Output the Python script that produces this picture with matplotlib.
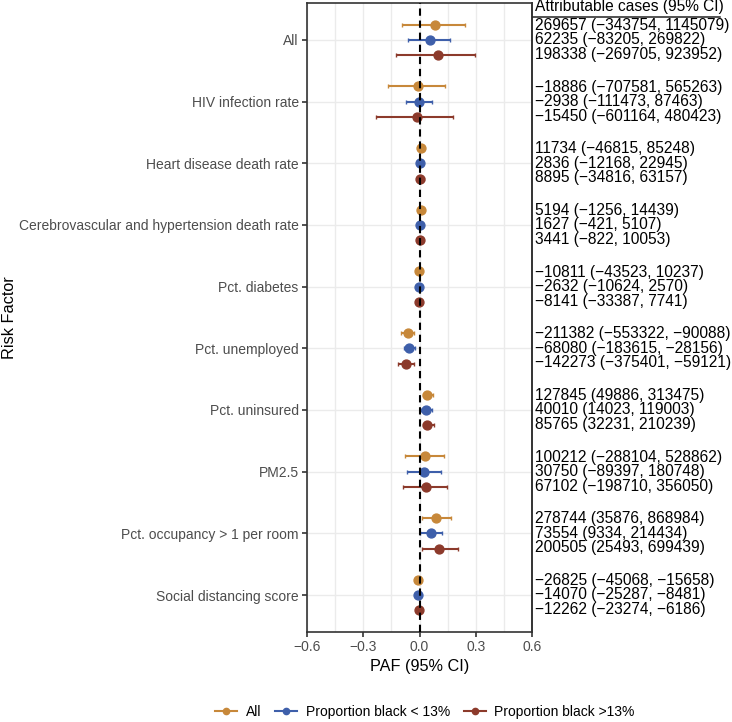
import numpy as np
import matplotlib.pyplot as plt
from matplotlib.lines import Line2D

plt.rcParams['font.family'] = ['Liberation Sans', 'DejaVu Sans']

factors = ["All", "HIV infection rate", "Heart disease death rate",
           "Cerebrovascular and hypertension death rate", "Pct. diabetes",
           "Pct. unemployed", "Pct. uninsured", "PM2.5",
           "Pct. occupancy > 1 per room", "Social distancing score"]
groups = ["All", "Proportion black < 13%", "Proportion black >13%"]
colors = ["#C7883A", "#3E5FAA", "#8C3A2B"]

# PAF estimates and 95% CI, one list per group
paf_all = [0.081, -0.009, 0.006, 0.006, -0.004, -0.063, 0.040, 0.030, 0.087, -0.006]
lo_all = [-0.093, -0.168, -0.004, 0.001, -0.012, -0.100, 0.016, -0.077, 0.012, -0.010]
hi_all = [0.240, 0.138, 0.016, 0.012, 0.004, -0.028, 0.072, 0.131, 0.170, -0.003]

paf_lo13 = [0.055, -0.002, 0.002, 0.003, -0.002, -0.055, 0.034, 0.024, 0.062, -0.009]
lo_lo13 = [-0.059, -0.070, -0.004, -0.001, -0.006, -0.082, 0.008, -0.066, 0.005, -0.013]
hi_lo13 = [0.163, 0.064, 0.009, 0.007, 0.002, -0.024, 0.065, 0.115, 0.122, -0.005]

paf_hi13 = [0.097, -0.013, 0.004, 0.004, -0.003, -0.070, 0.042, 0.033, 0.103, -0.004]
lo_hi13 = [-0.125, -0.230, -0.012, -0.001, -0.010, -0.115, 0.016, -0.086, 0.012, -0.008]
hi_hi13 = [0.295, 0.181, 0.022, 0.010, 0.004, -0.028, 0.076, 0.144, 0.204, -0.002]

# attributable cases (estimate, lower, upper)
ac_all = [(269657, -343754, 1145079), (-18886, -707581, 565263), (11734, -46815, 85248),
          (5194, -1256, 14439), (-10811, -43523, 10237), (-211382, -553322, -90088),
          (127845, 49886, 313475), (100212, -288104, 528862), (278744, 35876, 868984),
          (-26825, -45068, -15658)]
ac_lo13 = [(62235, -83205, 269822), (-2938, -111473, 87463), (2836, -12168, 22945),
           (1627, -421, 5107), (-2632, -10624, 2570), (-68080, -183615, -28156),
           (40010, 14023, 119003), (30750, -89397, 180748), (73554, 9334, 214434),
           (-14070, -25287, -8481)]
ac_hi13 = [(198338, -269705, 923952), (-15450, -601164, 480423), (8895, -34816, 63157),
           (3441, -822, 10053), (-8141, -33387, 7741), (-142273, -375401, -59121),
           (85765, 32231, 210239), (67102, -198710, 356050), (200505, 25493, 699439),
           (-12262, -23274, -6186)]

series = [(paf_all, lo_all, hi_all, ac_all),
          (paf_lo13, lo_lo13, hi_lo13, ac_lo13),
          (paf_hi13, lo_hi13, hi_hi13, ac_hi13)]
offsets = [-0.25, 0.0, 0.25]
text_offsets = [-0.235, 0.0, 0.235]


def fmt(v):
    return str(v).replace("-", "\u2212")


fig = plt.figure(figsize=(7.32, 7.22), dpi=100)
W, H = 732, 722
ax = fig.add_axes([307 / W, (H - 632) / H, 225 / W, 629 / H])
tx = fig.add_axes([532 / W, (H - 632) / H, 200 / W, 629 / H], sharey=ax)

pos = np.arange(1, len(factors) + 1)
for (est, lo, hi, ac), off, col in zip(series, offsets, colors):
    est = np.array(est)
    err = [est - np.array(lo), np.array(hi) - est]
    ax.errorbar(est, pos + off, xerr=err, fmt='o', color=col, ms=6.4,
                elinewidth=1.5, capsize=1.5, capthick=1.0, zorder=3)

ax.axvline(0, color='black', lw=1.5, dashes=(3.5, 2.3), zorder=5)

ax.set_xlim(-0.6, 0.6)
ax.set_ylim(len(factors) + 0.6, 0.4)
ax.set_xticks([-0.6, -0.3, 0.0, 0.3, 0.6])
ax.set_xticks(np.arange(-0.45, 0.5, 0.3), minor=True)
ax.set_xticklabels(["\u22120.6", "\u22120.3", "0.0", "0.3", "0.6"])
ax.set_yticks(pos)
ax.set_yticklabels(factors)
ax.grid(True, which='both', color='#EBEBEB', lw=1.0, zorder=0)
ax.set_axisbelow(True)
ax.tick_params(axis='both', which='major', length=3.5, width=1.2, color='#333333',
               labelsize=10, labelcolor='#4D4D4D', pad=2.5)
ax.tick_params(axis='x', which='minor', length=0)
for s in ax.spines.values():
    s.set_color('#333333')
    s.set_linewidth(1.2)
ax.set_xlabel("PAF (95% CI)", fontsize=11.7, labelpad=3)
fig.text(10 / W, 1 - 318 / H, "Risk Factor", fontsize=11.7, rotation=90,
         ha='center', va='center')

# attributable cases table
for (est, lo, hi, ac), toff in zip(series, text_offsets):
    for p, (a, l, h) in zip(pos, ac):
        tx.text(0.015, p + toff, f"{fmt(a)} ({fmt(l)}, {fmt(h)})", fontsize=11.2,
                va='center', ha='left', transform=tx.get_yaxis_transform())
tx.text(0.015, 0.46, "Attributable cases (95% CI)", fontsize=11.2, va='center',
        ha='left', transform=tx.get_yaxis_transform())
fig.add_artist(Line2D([533 / W, 720 / W], [1 - 16.5 / H, 1 - 16.5 / H],
                      color='#222222', lw=1.1))
tx.set_xlim(0, 1)
for k in ['top', 'right', 'bottom']:
    tx.spines[k].set_visible(False)
tx.spines['left'].set_color('#333333')
tx.spines['left'].set_linewidth(1.2)
tx.tick_params(left=False, bottom=False, labelleft=False, labelbottom=False)
tx.set_facecolor('none')

handles = [Line2D([0], [0], color=c, marker='o', ms=4.5, lw=1.5) for c in colors]
fig.legend(handles, groups, loc='center', bbox_to_anchor=(425 / W, 1 - 712 / H),
           ncol=3, frameon=False, fontsize=10, handlelength=1.6,
           handletextpad=0.6, columnspacing=1.0)

fig.savefig("out.png", dpi=100)
